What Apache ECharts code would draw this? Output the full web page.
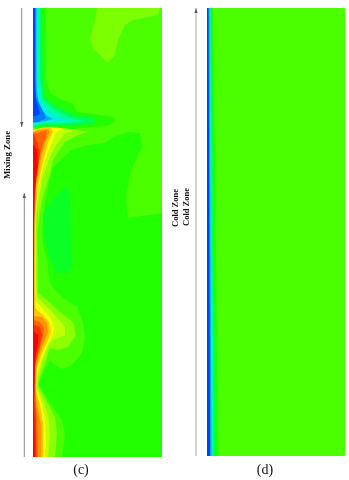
<!DOCTYPE html>
<html>
<head>
<meta charset="utf-8">
<style>
html,body{margin:0;padding:0;background:#fff}
#chart{width:349px;height:480px;filter:blur(0.7px)}
</style>
<script src="https://cdn.jsdelivr.net/npm/echarts@6/dist/echarts.min.js"></script>
</head>
<body>
<div id="chart"></div>
<script>
// Filled-contour level colours, outermost first
const levelColors = {
  base: '#22ff00', upper: '#4cff00', lime: '#7cff00', deep: '#0cff24',
  w1: '#8cff00', w2: '#c4ff00', w3: '#ffff00', w4: '#ffc800', w5: '#ff9600', w6: '#ff6400', w7: '#ff3200', w8: '#ff0000',
  c1: '#22ff00', c2: '#00ff50', c3: '#00ff9c', c4: '#00f0e0', c5: '#00aaff', c6: '#0078ff', c7: '#0040ff'
};

// Panel (c) contour outlines, in the panel's own [radial, axial] units
const cField = [[33,8],[162,8],[162,457],[33,457]];
const cUpper = [[33,8],[162,8],[162,213],[157,214],[128,218],[126,197],[131,170],[142,147],[140,133],[128,132],[113,137],[105,143],[88,145],[71,150],[61,160],[53,167],[45,200],[42,233],[44,250],[47,260],[49,275],[51,285],[63,298],[77,307],[83,323],[85,337],[82,353],[72,365],[62,369],[53,364],[50,360],[45,370],[40,380],[38,383],[50,403],[62,420],[65,437],[62,457],[33,457]];
const cLime = [[97,8],[160,8],[158,15],[133,20],[125,25],[118,40],[115,55],[108,63],[93,48],[90,38],[95,20]];
const cDeep = [[43,213],[55,197],[65,187],[70,192],[71,240],[73,267],[67,273],[58,273],[50,260],[45,240]];
const cWarm1 = [[33,130],[48,126],[68,128],[88,132],[78,135],[65,142],[58,152],[53,160],[50,173],[42,200],[37,233],[38,270],[38,293],[47,300],[60,312],[73,322],[76,335],[68,347],[57,350],[50,348],[45,363],[40,377],[38,385],[47,402],[55,417],[57,432],[55,457],[33,457]];
const cWarm2 = [[33,130],[50,127],[65,128],[73,131],[65,133],[56,145],[50,157],[42,180],[36,217],[36,280],[37,297],[45,305],[55,315],[65,327],[65,335],[53,340],[48,347],[42,363],[38,377],[37,387],[44,403],[49,420],[50,435],[48,457],[33,457]];
const cWarm3 = [[33,130.5],[45,127],[58,127],[63,129],[56,132],[50,147],[46,158],[43,167],[36,200],[35.5,240],[35.5,290],[35,300],[42,308],[50,317],[54,327],[53,335],[48,343],[42,358],[37,373],[36.5,388],[42,405],[45,420],[46,435],[45,457],[33,457]];
const cWarm4 = [[33,131],[43,128],[51,128],[53,131],[48,143],[44,158],[38,185],[35,215],[34.8,300],[35,308],[43,315],[49,322],[51,332],[48,340],[42,353],[37,368],[36,390],[40,405],[43,422],[43,457],[33,457]];
const cWarm5 = [[33,132],[41,130],[48,129],[50,132],[45,143],[41,158],[36,185],[34.5,220],[34.3,312],[34,316],[42,317],[47,323],[48,332],[45,340],[40,352],[36,368],[35.5,392],[38,410],[41,425],[41,457],[33,457]];
const cWarm6 = [[33,133],[38,133],[40,132],[46,130],[47,133],[43,145],[39,158],[35,180],[34,225],[34,320],[40,322],[44,328],[43,338],[39,350],[35,367],[35,395],[37,415],[38,457],[33,457]];
const cWarm7 = [[33,134],[34,134],[37,142],[40,152],[37,173],[34.5,200],[34,240],[34,325],[40,327],[42,335],[39,347],[35,365],[34.5,400],[36,420],[36.5,457],[33,457]];
const cWarm8 = [[33,145],[34,145],[37,150],[38,165],[35,185],[34,220],[34,332],[38,335],[38,343],[35,360],[34,400],[34.5,430],[35,457],[33,457]];
const cCold1 = [[33,8],[46,8],[46,80],[50,93],[62,100],[72,103],[78,112],[100,115],[113,117],[115,120],[110,125],[97,127],[70,129],[50,127],[33,128]];
const cCold2 = [[33,8],[42,8],[43,85],[45,98],[58,107],[75,115],[95,118],[93,123],[71,126],[45,125],[33,128]];
const cCold3 = [[33,8],[39.5,8],[40,80],[42,92],[43,100],[55,110],[71,118],[85,121],[71,123],[48,123],[33,126]];
const cCold4 = [[33,8],[38,8],[38,80],[39,90],[41,100],[50,112],[61,118],[71,121],[58,122],[45,122],[33,125]];
const cCold5 = [[33,8],[36.5,8],[36.5,80],[37,92],[39,105],[46,115],[53,119],[45,121],[33,123]];
const cCold6 = [[33,8],[35.5,8],[35.5,90],[36,97],[40,105],[45,116],[46,118],[38,122],[33,122]];
const cCold7 = [[33,8],[35,8],[35,85],[36,100],[39,110],[40,114],[36,116],[33,116]];

// Panel (d) contour outlines
const dField = [[207,8],[345,8],[345,456],[207,456]];
const dCold1 = [[207,8],[213,8],[218.5,456],[207,456]];
const dCold2 = [[207,8],[211.5,8],[216,456],[207,456]];
const dCold3 = [[207,8],[210.5,8],[213.5,456],[207,456]];
const dCold4 = [[207,8],[209.5,8],[211.5,456],[207,456]];
const dCold5 = [[207,8],[208.5,8],[210,456],[207,456]];

const panelCBands = [
  [cField,'base'],[cUpper,'upper'],[cLime,'lime'],[cDeep,'deep'],
  [cWarm1,'w1'],[cWarm2,'w2'],[cWarm3,'w3'],[cWarm4,'w4'],[cWarm5,'w5'],[cWarm6,'w6'],[cWarm7,'w7'],[cWarm8,'w8'],
  [cCold1,'c1'],[cCold2,'c2'],[cCold3,'c3'],[cCold4,'c4'],[cCold5,'c5'],[cCold6,'c6'],[cCold7,'c7']
];
const panelDBands = [
  [dField,'upper'],[dCold1,'c1'],[dCold2,'c2'],[dCold3,'c3'],[dCold4,'c5'],[dCold5,'c7']
];

// Annotations: arrows [x, tail y, head y, colour] and labels [text, x, y, rotated, size, weight]
const arrows = [[21.7,8,127,'#8c8c8c'],[24.3,457,193,'#8c8c8c'],[196,456,8,'#a8a8a8']];
const labels = [
  ['Mixing Zone',7.5,155,true,8.8,'bold'],
  ['Cold Zone',176,208,true,8.5,'bold'],
  ['Cold Zone',187,207,true,8.5,'bold'],
  ['(c)',81,470,false,14,'normal'],
  ['(d)',265,470,false,14,'normal']
];

function bandSeries(bands, axisIndex) {
  return {
    type: 'custom',
    coordinateSystem: 'cartesian2d',
    xAxisIndex: axisIndex,
    yAxisIndex: axisIndex,
    clip: true,
    silent: true,
    animation: false,
    data: bands.map(b => b[0][0]),
    renderItem(params, api) {
      const band = bands[params.dataIndex];
      return {
        type: 'polygon',
        shape: { points: band[0].map(p => api.coord(p)) },
        style: { fill: levelColors[band[1]], stroke: null }
      };
    }
  };
}

const hiddenAxis = (min, max, inverse, gridIndex) => ({
  type: 'value', min, max, inverse, gridIndex, show: false, scale: true
});

const chart = echarts.init(document.getElementById('chart'), null, { renderer: 'canvas' });
chart.setOption({
  animation: false,
  backgroundColor: '#fff',
  grid: [
    { left: 33, top: 8, width: 129, height: 449 },
    { left: 207, top: 8, width: 138, height: 448 },
    { left: 0, top: 0, width: 349, height: 480 }
  ],
  xAxis: [hiddenAxis(33,162,false,0), hiddenAxis(207,345,false,1), hiddenAxis(0,349,false,2)],
  yAxis: [hiddenAxis(8,457,true,0), hiddenAxis(8,456,true,1), hiddenAxis(0,480,true,2)],
  series: [
    bandSeries(panelCBands, 0),
    bandSeries(panelDBands, 1),
    {
      type: 'custom', coordinateSystem: 'cartesian2d', xAxisIndex: 2, yAxisIndex: 2,
      silent: true, animation: false,
      data: arrows.map(a => [a[0], a[1]]),
      renderItem(params, api) {
        const a = arrows[params.dataIndex];
        const tail = api.coord([a[0], a[1]]);
        const head = api.coord([a[0], a[2]]);
        const dir = head[1] > tail[1] ? 1 : -1;
        return {
          type: 'group',
          children: [
            { type: 'line', shape: { x1: tail[0], y1: tail[1], x2: head[0], y2: head[1] },
              style: { stroke: a[3], lineWidth: 1 } },
            { type: 'polygon',
              shape: { points: [[head[0], head[1]], [head[0]-1.6, head[1]-dir*5], [head[0]+1.6, head[1]-dir*5]] },
              style: { fill: '#555' } }
          ]
        };
      }
    },
    {
      type: 'custom', coordinateSystem: 'cartesian2d', xAxisIndex: 2, yAxisIndex: 2,
      silent: true, animation: false,
      data: labels.map(l => [l[1], l[2]]),
      renderItem(params, api) {
        const l = labels[params.dataIndex];
        const c = api.coord([l[1], l[2]]);
        return {
          type: 'text', x: c[0], y: c[1], rotation: l[3] ? Math.PI / 2 : 0,
          style: {
            text: l[0], fill: '#111', align: 'center', verticalAlign: 'middle',
            font: `${l[5]} ${l[4]}px "Liberation Serif", serif`
          }
        };
      }
    }
  ]
});
</script>
</body>
</html>
